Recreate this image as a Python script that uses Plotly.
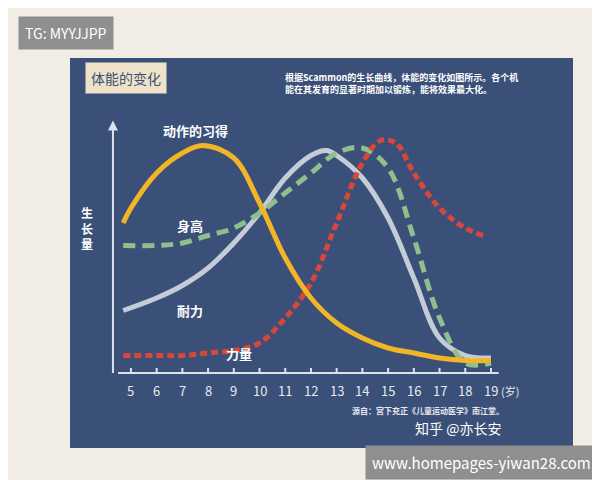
import plotly.graph_objects as go

AGES = [5, 6, 7, 8, 9, 10, 11, 12, 13, 14, 15, 16, 17, 18, 19]
MOTOR_X = [4.7, 5, 6, 7, 7.8, 9, 10, 11, 12, 13, 14, 15, 16, 17, 18, 19]
MOTOR_Y = [60, 66, 80, 88, 91, 86, 68, 46, 30, 20, 14, 10, 8, 6, 5, 5]
HEIGHT_X = [4.7, 6, 7, 8, 9, 10, 11, 12, 13, 14, 15, 16, 17, 18, 19]
HEIGHT_Y = [51, 51, 52, 55, 58, 64, 72, 80, 88, 90, 82, 54, 22, 4, 4]
ENDUR_X = [4.7, 6, 7, 8, 9, 10, 11, 12, 12.6, 13, 14, 15, 16, 17, 18, 19]
ENDUR_Y = [25, 30, 35, 42, 52, 64, 78, 87, 89, 87, 78, 62, 38, 14, 7, 6]
POWER_X = [4.7, 6, 7, 8, 9, 10, 11, 12, 13, 14, 14.7, 15.3, 16, 17, 18, 18.7]
POWER_Y = [7, 7, 7, 8, 9, 12, 22, 36, 60, 84, 93, 92, 80, 66, 58, 55]

BLUE = "#3b5078"
fig = go.Figure()
series = [
    (ENDUR_X, ENDUR_Y, "#c4ccd8", "solid", "耐力"),
    (HEIGHT_X, HEIGHT_Y, "#8fbf8a", "12px,7px", "身高"),
    (POWER_X, POWER_Y, "#d9473a", "7px,4px", "力量"),
    (MOTOR_X, MOTOR_Y, "#f2b526", "solid", "动作的习得"),
]
for xs, ys, c, d, n in series:
    fig.add_trace(go.Scatter(x=xs, y=ys, mode="lines", name=n,
                             line=dict(color=c, width=5, dash=d, shape="spline")))

# axes
fig.add_shape(type="line", x0=4.5, x1=19.3, y0=0, y1=0, line=dict(color="#dde2ea", width=2))
fig.add_shape(type="line", x0=4.3, x1=4.3, y0=0, y1=100, line=dict(color="#dde2ea", width=2))
fig.add_annotation(x=4.3, y=101, ax=4.3, ay=95, axref="x", ayref="y", showarrow=True,
                   arrowhead=2, arrowcolor="#dde2ea", arrowwidth=2, text="")
for a in AGES:
    fig.add_shape(type="line", x0=a, x1=a, y0=0, y1=2, line=dict(color="#dde2ea", width=2))
    fig.add_annotation(x=a, y=-7, text=str(a), showarrow=False,
                       font=dict(color="#e6e9ef", size=13))
fig.add_annotation(x=19.75, y=-7, text="(岁)", showarrow=False, font=dict(color="#e6e9ef", size=11))

labels = [(7.5, 97, "动作的习得"), (7.3, 59, "身高"), (7.3, 25, "耐力"), (9.2, 8, "力量")]
for x, y, t in labels:
    fig.add_annotation(x=x, y=y, text="<b>" + t + "</b>", showarrow=False,
                       font=dict(color="white", size=13))
fig.add_annotation(x=3.3, y=58, text="<b>生<br>长<br>量</b>", showarrow=False,
                   font=dict(color="white", size=12))
fig.add_annotation(x=4.8, y=118, text="体能的变化", showarrow=False, bgcolor="#eee3c8",
                   font=dict(color="#3b5078", size=14), borderpad=5)
fig.add_annotation(x=10.9, y=116, xanchor="left",
                   text="<b>根据Scammon的生长曲线，体能的变化如图所示。各个机<br>能在其发育的显著时期加以锻炼，能将效果最大化。</b>",
                   showarrow=False, align="left", font=dict(color="white", size=9))
fig.add_annotation(x=19.6, y=-15, xanchor="right", text="<b>源自：宫下充正《儿童运动医学》南江堂。</b>",
                   showarrow=False, font=dict(color="#e6e9ef", size=8))
fig.add_annotation(x=17.7, y=-22, text="知乎 @亦长安",
                   showarrow=False, font=dict(color="white", size=14))

fig.add_annotation(xref="paper", yref="paper", x=-0.103, y=1.064, xanchor="left", yanchor="middle",
                   text="TG: MYYJJPP", showarrow=False, bgcolor="#8f8f8f",
                   font=dict(color="white", size=14), borderpad=6)
fig.add_annotation(xref="paper", yref="paper", x=1.05, y=-0.038, xanchor="right", yanchor="middle",
                   text="www.homepages-yiwan28.com", showarrow=False, bgcolor="#8f8f8f",
                   font=dict(color="white", size=15), borderpad=6)

fig.update_layout(
    width=600, height=480, showlegend=False,
    paper_bgcolor="#f1ede4", plot_bgcolor=BLUE,
    margin=dict(l=62, r=35, t=50, b=40),
    font=dict(family="Noto Sans CJK SC"),
    xaxis=dict(range=[2.63, 22.19], visible=False),
    yaxis=dict(range=[-30, 126], visible=False),
)
fig.write_html("out.html")
